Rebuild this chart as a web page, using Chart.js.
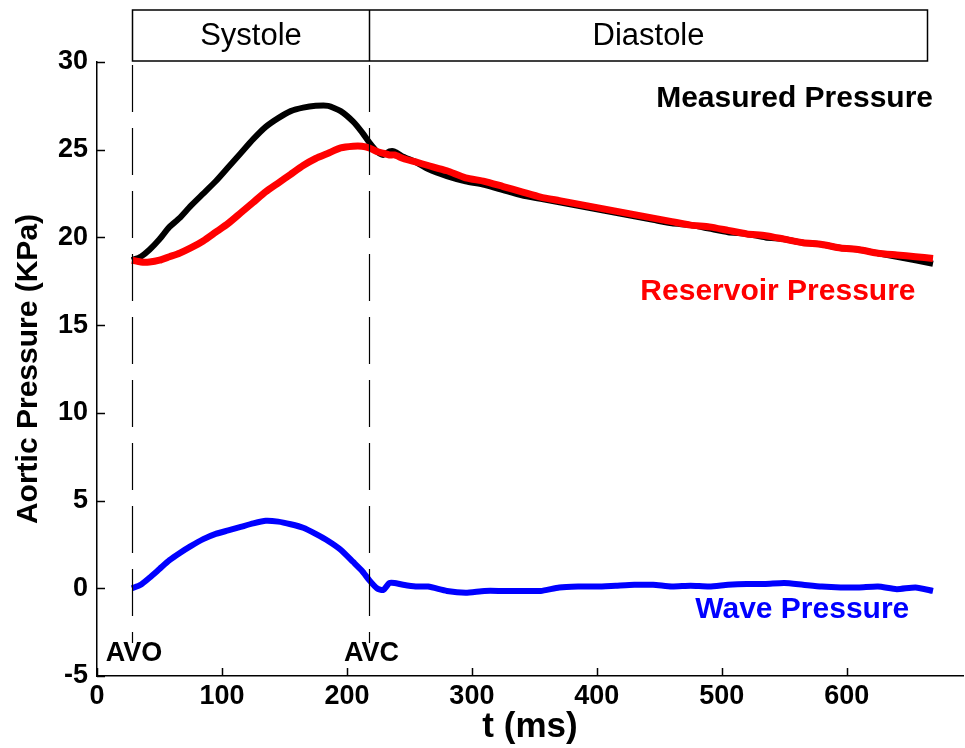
<!DOCTYPE html>
<html>
<head>
<meta charset="utf-8">
<script src="https://cdn.jsdelivr.net/npm/chart.js@4.4.1/dist/chart.umd.min.js"></script>
<style>
    html, body { margin: 0; padding: 0; background: #fff; }
</style>
</head>
<body>
<canvas id="pressure_chart" width="965" height="748"></canvas>
<script>
// sample times (ms) and pressures (KPa)
var timeMs = [28, 35, 42, 50, 58, 66, 75, 85, 95, 105, 115, 125, 135, 145, 155, 165, 175, 185, 195, 205,
    212, 218, 224, 229, 234, 238, 245, 255, 265, 280, 295, 310, 325, 340, 355, 370, 385, 400, 415, 430,
    445, 460, 475, 490, 505, 520, 535, 550, 565, 580, 595, 610, 625, 640, 655, 669];

var measured = [18.7, 18.9, 19.3, 19.9, 20.6, 21.1, 21.8, 22.5, 23.2, 24.0, 24.8, 25.6, 26.3, 26.8, 27.2, 27.4, 27.5, 27.5, 27.2, 26.6,
    26.0, 25.4, 24.9, 24.7, 24.9, 24.9, 24.6, 24.3, 23.9, 23.5, 23.2, 23.0, 22.7, 22.4, 22.2, 22.0, 21.8, 21.6, 21.4, 21.2,
    21.0, 20.8, 20.7, 20.5, 20.3, 20.2, 20.0, 19.9, 19.7, 19.6, 19.4, 19.3, 19.1, 18.9, 18.7, 18.5];

var reservoir = [18.7, 18.6, 18.6, 18.7, 18.9, 19.1, 19.4, 19.8, 20.3, 20.8, 21.4, 22.0, 22.6, 23.1, 23.6, 24.1, 24.5, 24.8, 25.1, 25.2,
    25.2, 25.1, 24.9, 24.8, 24.7, 24.7, 24.5, 24.3, 24.1, 23.8, 23.4, 23.2, 22.9, 22.6, 22.3, 22.1, 21.9, 21.7, 21.5, 21.3,
    21.1, 20.9, 20.7, 20.6, 20.4, 20.2, 20.1, 19.9, 19.7, 19.6, 19.4, 19.3, 19.1, 19.0, 18.9, 18.8];

var wave = [0.0, 0.2, 0.6, 1.1, 1.6, 2.0, 2.4, 2.8, 3.1, 3.3, 3.5, 3.7, 3.85, 3.8, 3.65, 3.45, 3.1, 2.7, 2.2, 1.5,
    1.0, 0.45, 0.0, -0.1, 0.3, 0.3, 0.2, 0.1, 0.1, -0.15, -0.25, -0.15, -0.15, -0.15, -0.15, 0.05, 0.1, 0.1, 0.15, 0.2,
    0.2, 0.1, 0.15, 0.1, 0.2, 0.25, 0.25, 0.3, 0.2, 0.1, 0.05, 0.05, 0.1, -0.05, 0.05, -0.15];

var xTickVals = [0, 100, 200, 300, 400, 500, 600];
var yTickVals = [-5, 0, 5, 10, 15, 20, 25, 30];

// cardiac phases: boundaries in ms and names
var phaseBounds = [28, 218, 664];
var phaseNames = ['Systole', 'Diastole'];

// aortic valve opening / closing
var valveTimes = [28, 218];
var valveLabels = ['AVO', 'AVC'];

function toPoints(values) {
    return values.map(function(v, i) { return { x: timeMs[i], y: v }; });
}

Chart.defaults.font.family = "'Liberation Sans', Arial, sans-serif";
Chart.defaults.color = '#000';

var overlay = {
    id: 'overlay',
    afterDatasetsDraw: function(chart) {
        var ctx = chart.ctx;
        var xs = chart.scales.x, ys = chart.scales.y;
        var area = chart.chartArea;
        ctx.save();

        // tick marks pointing into the plot
        ctx.strokeStyle = '#000';
        ctx.lineWidth = 1.5;
        yTickVals.forEach(function(v) {
            var y = Math.round(ys.getPixelForValue(v)) + 0.5;
            ctx.beginPath();
            ctx.moveTo(area.left, y);
            ctx.lineTo(area.left + 8, y);
            ctx.stroke();
        });
        xTickVals.forEach(function(v) {
            var x = Math.round(xs.getPixelForValue(v)) + 0.5;
            ctx.beginPath();
            ctx.moveTo(x, area.bottom);
            ctx.lineTo(x, area.bottom - 8);
            ctx.stroke();
        });

        // phase header box
        var boxTop = area.top - 52, boxBot = area.top - 1;
        var px = phaseBounds.map(function(t) { return Math.round(xs.getPixelForValue(t)) + 0.5; });
        ctx.strokeRect(px[0], boxTop, px[px.length - 1] - px[0], boxBot - boxTop);
        for (var i = 1; i < px.length - 1; i++) {
            ctx.beginPath();
            ctx.moveTo(px[i], boxTop);
            ctx.lineTo(px[i], boxBot);
            ctx.stroke();
        }
        ctx.font = "31px 'Liberation Sans', Arial, sans-serif";
        ctx.fillStyle = '#000';
        ctx.textAlign = 'center';
        ctx.textBaseline = 'middle';
        phaseNames.forEach(function(name, k) {
            ctx.fillText(name, (px[k] + px[k + 1]) / 2, (boxTop + boxBot) / 2 + 1);
        });

        // dashed valve lines with labels
        ctx.lineWidth = 1.2;
        ctx.setLineDash([47, 16]);
        valveTimes.forEach(function(t) {
            var x = Math.round(xs.getPixelForValue(t)) + 0.5;
            ctx.beginPath();
            ctx.moveTo(x, area.top + 3);
            ctx.lineTo(x, area.bottom - 33);
            ctx.stroke();
        });
        ctx.setLineDash([]);
        ctx.font = "bold 27px 'Liberation Sans', Arial, sans-serif";
        valveTimes.forEach(function(t, k) {
            ctx.fillText(valveLabels[k], xs.getPixelForValue(t) + 2, area.bottom - 22);
        });

        // series names
        ctx.font = "bold 30px 'Liberation Sans', Arial, sans-serif";
        ctx.textAlign = 'right';
        ctx.fillStyle = '#000';
        ctx.fillText('Measured Pressure', xs.getPixelForValue(669), ys.getPixelForValue(27.9));
        ctx.fillStyle = '#ff0000';
        ctx.fillText('Reservoir Pressure', xs.getPixelForValue(655), ys.getPixelForValue(16.9));
        ctx.fillStyle = '#0000ff';
        ctx.fillText('Wave Pressure', xs.getPixelForValue(650), ys.getPixelForValue(-1.2));

        ctx.restore();
    }
};

var ctx = document.getElementById('pressure_chart').getContext('2d');
var pressureChart = new Chart(ctx, {
    type: 'line',
    data: {
        datasets: [
            {
                label: 'Reservoir Pressure',
                data: toPoints(reservoir),
                borderColor: '#ff0000',
                borderWidth: 7,
                order: 1
            },
            {
                label: 'Measured Pressure',
                data: toPoints(measured),
                borderColor: '#000000',
                borderWidth: 6,
                order: 2
            },
            {
                label: 'Wave Pressure',
                data: toPoints(wave),
                borderColor: '#0000ff',
                borderWidth: 6,
                order: 0
            }
        ]
    },
    options: {
        responsive: false,
        animation: false,
        parsing: false,
        elements: {
            point: { radius: 0 },
            line: { tension: 0.2, borderJoinStyle: 'round', fill: false }
        },
        layout: { padding: { top: 62, right: 2, left: 0, bottom: 0 } },
        plugins: {
            legend: { display: false },
            tooltip: { enabled: false }
        },
        scales: {
            x: {
                type: 'linear',
                min: 0,
                max: 693,
                afterBuildTicks: function(scale) {
                    scale.ticks = xTickVals.map(function(v) { return { value: v }; });
                },
                afterFit: function(scale) { scale.height = 72; },
                grid: { display: false, drawTicks: false },
                border: { display: true, color: '#000', width: 1.5 },
                ticks: {
                    padding: 4,
                    maxRotation: 0,
                    font: { size: 27, weight: 'bold' }
                },
                title: {
                    display: true,
                    text: 't (ms)',
                    padding: { top: 0, bottom: 0 },
                    font: { size: 35, weight: 'bold' }
                }
            },
            y: {
                min: -5,
                max: 30,
                afterBuildTicks: function(scale) {
                    scale.ticks = yTickVals.map(function(v) { return { value: v }; });
                },
                afterFit: function(scale) { scale.width = 97; },
                grid: { display: false, drawTicks: false },
                border: { display: true, color: '#000', width: 1.5 },
                ticks: {
                    padding: 9,
                    font: { size: 27, weight: 'bold' }
                },
                title: {
                    display: true,
                    text: 'Aortic Pressure (KPa)',
                    padding: { top: 11, bottom: 0 },
                    font: { size: 30, weight: 'bold' }
                }
            }
        }
    },
    plugins: [overlay]
});
</script>
</body>
</html>
